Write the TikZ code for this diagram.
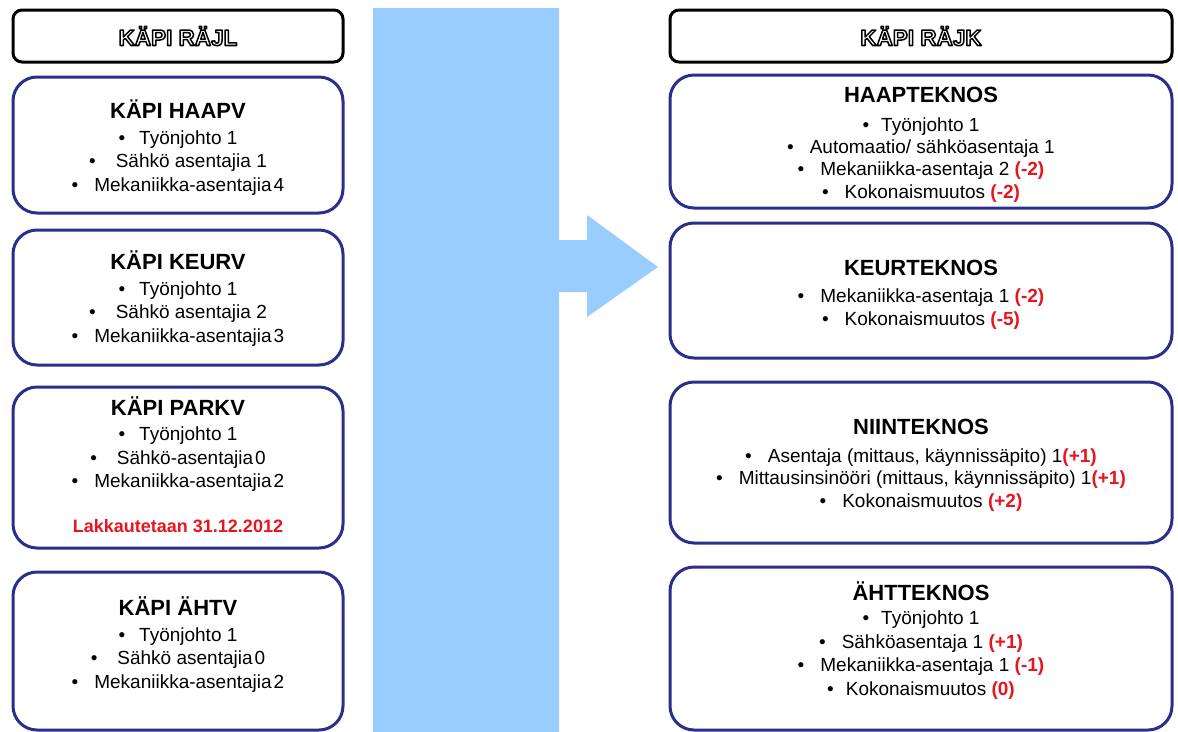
\documentclass[tikz,border=0pt]{standalone}
\usepackage{fontspec}
\setmainfont{Liberation Sans}
\usetikzlibrary{calc}

\definecolor{unitframe}{RGB}{43,47,138}
\definecolor{barblue}{RGB}{153,204,255}
\definecolor{chgred}{RGB}{232,20,30}

% fonts
\newcommand\titlef{\fontsize{22}{26}\selectfont\bfseries}
\newcommand\itm[2][14pt]{\textbullet\hspace{#1}#2}
\newcommand\chg[1]{\textcolor{chgred}{\bfseries #1}}

% white letters with a dark outline (fill + stroke text rendering mode)
\newcommand\hollow[1]{%
  \special{pdf:literal direct 2 Tr 1.5 w 1 j 1 g 0 G}#1%
  \special{pdf:literal direct 0 Tr 1 w 0 g 0 G}}

\tikzset{
  hdr/.style={draw=black, line width=3pt, rounded corners=9pt, fill=white,
    minimum height=52pt, inner sep=0pt,
    font=\fontsize{22.5}{26}\selectfont\bfseries},
  unit/.style={draw=unitframe, line width=3pt, rounded corners=24pt, fill=white, inner sep=0pt},
  leftcol/.style={minimum width=330pt},
  rightcol/.style={minimum width=502pt},
  % placed by the baseline of the last line
  txt/.style={align=center, inner sep=0pt, anchor=base,
    font=\fontsize{19}{23.5}\selectfont},
  txtr/.style={txt, font=\fontsize{19}{22.2}\selectfont},
}

\begin{document}
\begin{tikzpicture}[x=1pt, y=-1pt]
\useasboundingbox (0,0) rectangle (1178,731);

% transition bar with its arrow
\fill[barblue] (373,8) -- (559,8) -- (559,240) -- (587,240) -- (587,215)
  -- (658,267) -- (587,317) -- (587,292) -- (559,292) -- (559,733) -- (373,733) -- cycle;

% column headers
\node[hdr, leftcol]  (hl) at (178,36) {\hollow{KÄPI RÄJL}};
\node[hdr, rightcol] (hr) at (921,36) {\hollow{KÄPI RÄJK}};

% old units
\node[unit, leftcol, minimum height=136pt] (l1) at (178,145) {};
\node[unit, leftcol, minimum height=135pt] (l2) at (178,297.5) {};
\node[unit, leftcol, minimum height=161pt] (l3) at (178,467.5) {};
\node[unit, leftcol, minimum height=158pt] (l4) at (178,651) {};

\node[txt] (l1t) at (178,191) {{\titlef KÄPI HAAPV}\\[2pt]
  \itm{Työnjohto 1}\\
  \itm[20pt]{Sähkö asentajia 1}\\
  \itm[16pt]{Mekaniikka-asentajia\hspace{2pt}4}};
\node[txt] (l2t) at (178,342) {{\titlef KÄPI KEURV}\\[2pt]
  \itm{Työnjohto 1}\\
  \itm[20pt]{Sähkö asentajia 2}\\
  \itm[16pt]{Mekaniikka-asentajia\hspace{2pt}3}};
\node[txt] (l3t) at (178,532) {{\titlef KÄPI PARKV}\\[2pt]
  \itm{Työnjohto 1}\\
  \itm[20pt]{Sähkö-asentajia\hspace{2pt}0}\\
  \itm[16pt]{Mekaniikka-asentajia\hspace{2pt}2}\\[21pt]
  {\fontsize{18}{22}\selectfont\chg{Lakkautetaan 31.12.2012}}};
\node[txt] (l4t) at (178,688) {{\titlef KÄPI ÄHTV}\\[2pt]
  \itm{Työnjohto 1}\\
  \itm[20pt]{Sähkö asentajia\hspace{2pt}0}\\
  \itm[16pt]{Mekaniikka-asentajia\hspace{2pt}2}};

% new units
\node[unit, rightcol, minimum height=133pt] (r1) at (921,141.5) {};
\node[unit, rightcol, minimum height=135pt] (r2) at (921,290.5) {};
\node[unit, rightcol, minimum height=161pt] (r3) at (921,462.5) {};
\node[unit, rightcol, minimum height=163pt] (r4) at (921,648.5) {};

\node[txtr] (r1t) at (921,198) {{\titlef HAAPTEKNOS}\\[6.5pt]
  \itm[12pt]{Työnjohto 1}\\
  \itm[16pt]{Automaatio/ sähköasentaja 1}\\
  \itm[16pt]{Mekaniikka-asentaja 2 \chg{(-2)}}\\
  \itm[16pt]{Kokonaismuutos \chg{(-2)}}};
\node[txtr] (r2t) at (921,325) {{\titlef KEURTEKNOS}\\[5.5pt]
  \itm[16pt]{Mekaniikka-asentaja 1 \chg{(-2)}}\\
  \itm[16pt]{Kokonaismuutos \chg{(-5)}}};
\node[txtr] (r3t) at (921,507) {{\titlef NIINTEKNOS}\\[5.5pt]
  \itm[16pt]{Asentaja (mittaus, käynnissäpito) 1\chg{(+1)}}\\
  \itm[16pt]{Mittausinsinööri (mittaus, käynnissäpito) 1\chg{(+1)}}\\
  \itm[16pt]{Kokonaismuutos \chg{(+2)}}};
\node[txt] (r4t) at (921,695) {{\titlef ÄHTTEKNOS}\\[1pt]
  \itm[12pt]{Työnjohto 1}\\
  \itm[16pt]{Sähköasentaja 1 \chg{(+1)}}\\
  \itm[16pt]{Mekaniikka-asentaja 1 \chg{(-1)}}\\
  \itm[12pt]{Kokonaismuutos \chg{(0)}}};
\end{tikzpicture}
\end{document}
